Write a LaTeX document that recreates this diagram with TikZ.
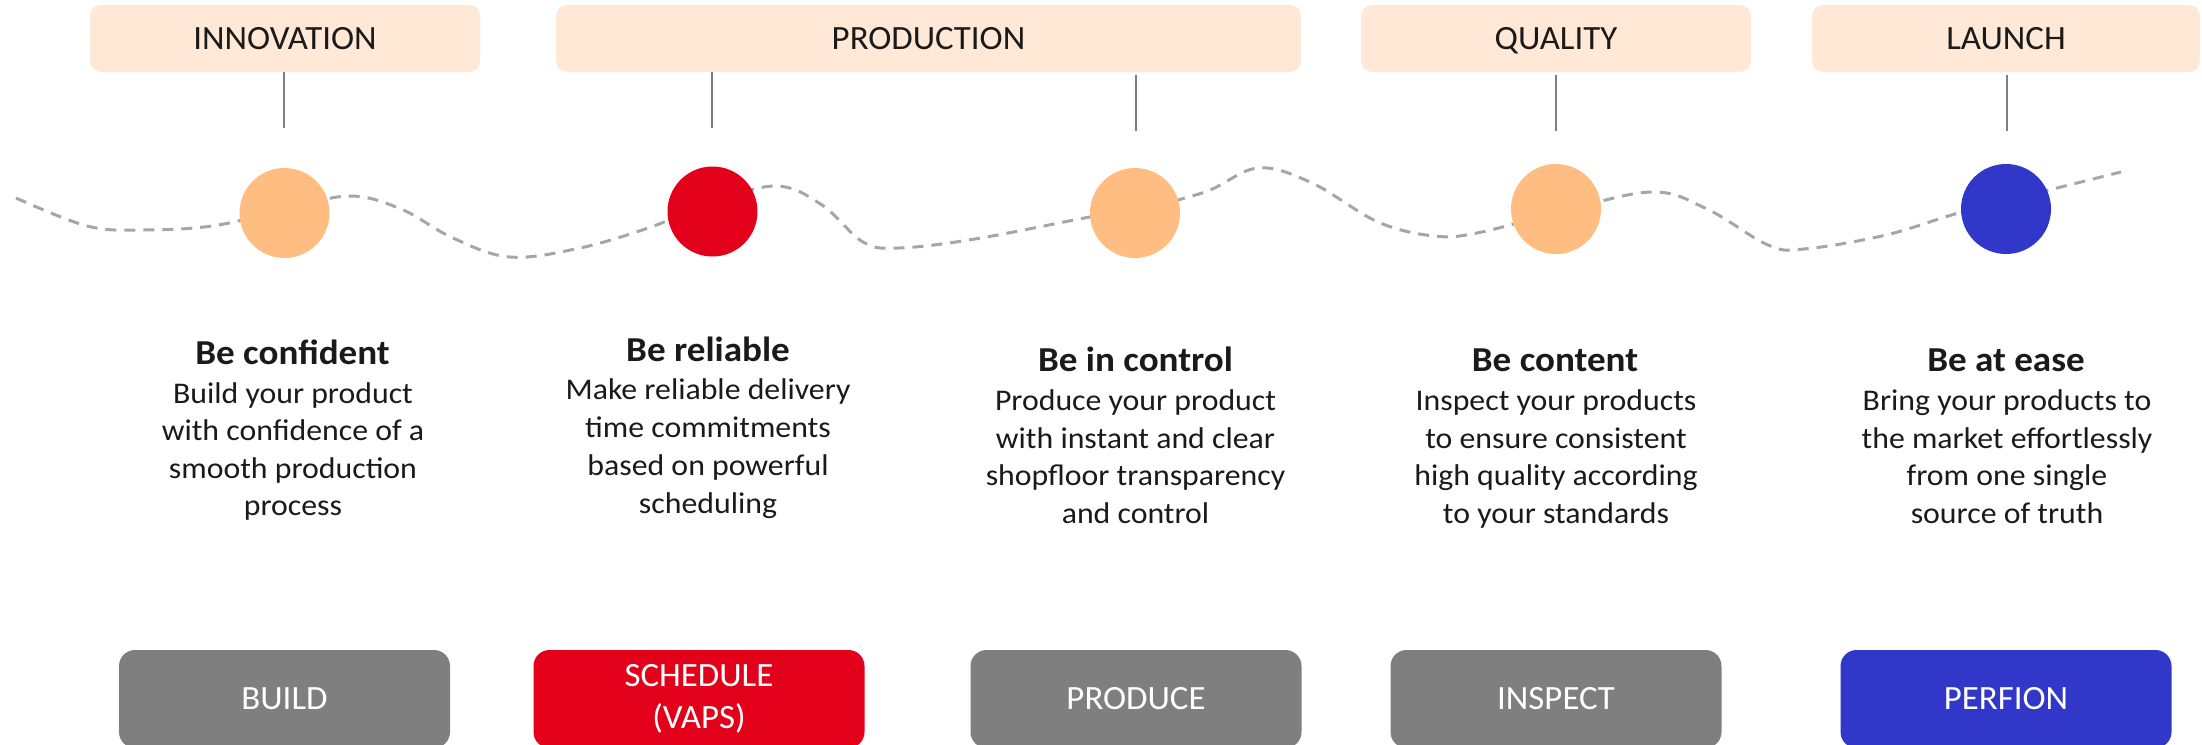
\documentclass[tikz,border=0pt]{standalone}
\usepackage{fontspec}
\setmainfont{Carlito}
\newfontfamily\textfnt[FakeStretch=1.06]{Carlito}
\newfontfamily\labelfnt[FakeStretch=1.025]{Carlito}
\definecolor{peach}{HTML}{FFE9D6}
\definecolor{dotorange}{HTML}{FFBD82}
\definecolor{dotred}{HTML}{E2001A}
\definecolor{dotblue}{HTML}{3137C8}
\definecolor{boxgray}{HTML}{7F7F7F}
\definecolor{dashgray}{HTML}{A6A6A6}
\definecolor{conngray}{HTML}{7F7F7F}
\definecolor{ink}{HTML}{1A1A1A}
\begin{document}
\begin{tikzpicture}[x=1pt,y=-1pt,
  phase/.style={rectangle, rounded corners=11pt, fill=peach, draw=none, minimum height=67pt, inner sep=0pt, text height=22pt, text depth=0pt, text=ink, font=\labelfnt\fontsize{34pt}{40pt}\selectfont},
  dot/.style={circle, minimum size=90pt, inner sep=0pt, draw=none},
  conn/.style={draw=conngray, line width=2pt},
  wave/.style={draw=dashgray, line width=3pt, dash pattern=on 11pt off 8pt},
  head/.style={anchor=base, inner sep=0pt, text=ink, font=\textfnt\fontsize{35pt}{42pt}\selectfont\bfseries},
  body/.style={anchor=base, inner sep=0pt, text=ink, font=\textfnt\fontsize{30pt}{38pt}\selectfont},
  tool/.style={rectangle, rounded corners=16pt, minimum width=331pt, minimum height=98pt, inner sep=0pt, text=white, align=center, font=\labelfnt\fontsize{34pt}{42pt}\selectfont}
]
\useasboundingbox (0,0) rectangle (2202,744);
\clip (0,0) rectangle (2202,744);

% top phase boxes
\node[phase, minimum width=390pt] (t1) at (285,38.5) {INNOVATION};
\node[phase, minimum width=745pt] (t2) at (928.5,38.5) {PRODUCTION};
\node[phase, minimum width=390pt] (t3) at (1556,38.5) {QUALITY};
\node[phase, minimum width=388pt] (t4) at (2006,38.5) {LAUNCH};

% connector ends
\coordinate (l1) at (284,128);
\coordinate (l2) at (712,128);
\coordinate (l3) at (1135.5,131);
\coordinate (l4) at (1556,131);
\coordinate (l5) at (2006.5,131);
\draw[conn] (t1.south -| l1) -- (l1);
\draw[conn] (t2.south -| l2) -- (l2);
\draw[conn] ([yshift=-3pt]t2.south -| l3) -- (l3);
\draw[conn] ([yshift=-3pt]t3.south -| l4) -- (l4);
\draw[conn] ([yshift=-3pt]t4.south -| l5) -- (l5);

% dashed wave
\draw[wave] plot[smooth, tension=0.6] coordinates {
 (16,198) (87,226) (142,230) (212,226) (284,210) (349,196) (401,209) (453,238)
 (510,257) (580,248) (651,227) (710,203) (776,186) (822,205) (863,242) (899,248)
 (975,239) (1090,217) (1135,210) (1205,192) (1258,168) (1312,183) (1378,222)
 (1434,236) (1477,233) (1556,213) (1651,192) (1707,209) (1768,245) (1804,249)
 (1886,235) (1962,212) (2057,188) (2121,172)};

% dots
\node[dot, fill=dotorange] (c1) at (284.5,213) {};
\node[dot, fill=dotred] (c2) at (712.5,211.5) {};
\node[dot, fill=dotorange] (c3) at (1135,213) {};
\node[dot, fill=dotorange] (c4) at (1556,209) {};
\node[dot, fill=dotblue] (c5) at (2006,209) {};

% headings
\node[head] (h1) at (292.6,364) {Be confident};
\node[head] (h2) at (708,361.7) {Be reliable};
\node[head] (h3) at (1135.5,371.5) {Be in control};
\node[head] (h4) at (1555,371.5) {Be content};
\node[head] (h5) at (2006,371.5) {Be at ease};

% bodies
\foreach \t [count=\i] in {Build your product, with confidence of a, smooth production, process}
  \node[body] (b1-\i) at (293,{403.4+37.3*(\i-1)}) {\t};
\foreach \t [count=\i] in {Make reliable delivery, time commitments, based on powerful, scheduling}
  \node[body] (b2-\i) at (708,{399+38.3*(\i-1)}) {\t};
\foreach \t [count=\i] in {Produce your product, with instant and clear, shopfloor transparency, and control}
  \node[body] (b3-\i) at (1135.5,{410.7+37.5*(\i-1)}) {\t};
\foreach \t [count=\i] in {Inspect your products, to ensure consistent, high quality according, to your standards}
  \node[body] (b4-\i) at (1556,{410.7+37.5*(\i-1)}) {\t};
\foreach \t [count=\i] in {Bring your products to, the market effortlessly, from one single, source of truth}
  \node[body] (b5-\i) at (2007,{410.7+37.5*(\i-1)}) {\t};

% bottom tool boxes
\node[tool, fill=boxgray] (p1) at (284.5,699) {BUILD};
\node[tool, fill=dotred] (p2) at (699,699) {SCHEDULE\\(VAPS)};
\node[tool, fill=boxgray] (p3) at (1136,699) {PRODUCE};
\node[tool, fill=boxgray] (p4) at (1556,699) {INSPECT};
\node[tool, fill=dotblue] (p5) at (2006,699) {PERFION};
\end{tikzpicture}
\end{document}
